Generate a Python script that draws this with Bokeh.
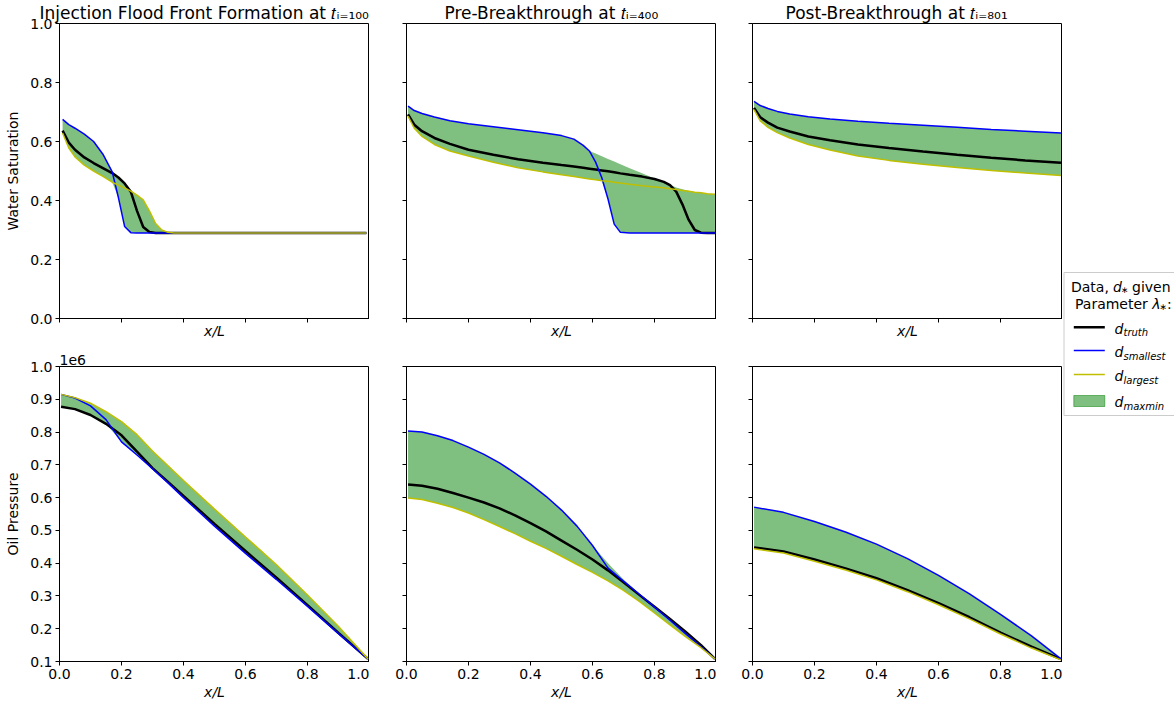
from bokeh.plotting import figure
from bokeh.models import Range1d, FixedTicker, PrintfTickFormatter
from bokeh.layouts import row, column
from bokeh.embed import file_html
from bokeh.resources import INLINE
from bokeh.core.properties import value

FONT = "DejaVu Sans"
BLUE = "#0000ff"
YELLOW = "#bfbf00"
GREEN = "#008000"

# ---------------- labels / ticks ----------------
titles = ["Injection Flood Front Formation at", "Pre-Breakthrough at", "Post-Breakthrough at"]
title_steps = ["\u2081\u2080\u2080", "\u2084\u2080\u2080", "\u2088\u2080\u2081"]   # 100, 400, 801 as subscripts
series_labels = ["truth", "smallest", "largest", "maxmin"]
x_ticks = [0.0, 0.2, 0.4, 0.6, 0.8, 1.0]
sw_ticks = [0.0, 0.2, 0.4, 0.6, 0.8, 1.0]
p_ticks = [0.1, 0.2, 0.3, 0.4, 0.5, 0.6, 0.7, 0.8, 0.9, 1.0]

# ---------------- water saturation, t=100 ----------------
sw100_x = [0.01, 0.03, 0.05, 0.08, 0.11, 0.14, 0.17, 0.19, 0.21, 0.23, 0.25, 0.27,
           0.29, 0.31, 0.33, 0.35, 0.37, 0.40, 0.5, 0.6, 0.7, 0.8, 0.9, 0.99]
sw100_truth = [0.637, 0.596, 0.572, 0.546, 0.527, 0.510, 0.493, 0.478, 0.458, 0.430, 0.365, 0.310,
               0.293, 0.290, 0.290, 0.290, 0.290, 0.290, 0.290, 0.290, 0.290, 0.290, 0.290, 0.290]
sw100_small = [0.675, 0.657, 0.645, 0.625, 0.600, 0.557, 0.497, 0.410, 0.312, 0.291, 0.290, 0.290,
               0.290, 0.290, 0.290, 0.290, 0.290, 0.290, 0.290, 0.290, 0.290, 0.290, 0.290, 0.290]
sw100_large = [0.629, 0.578, 0.548, 0.520, 0.500, 0.482, 0.462, 0.452, 0.443, 0.432, 0.418, 0.402,
               0.365, 0.322, 0.300, 0.292, 0.290, 0.290, 0.290, 0.290, 0.290, 0.290, 0.290, 0.290]
sw100_upper = [0.675, 0.657, 0.645, 0.625, 0.600, 0.557, 0.500, 0.480, 0.460, 0.435, 0.418, 0.402,
               0.365, 0.322, 0.300, 0.292, 0.290, 0.290, 0.290, 0.290, 0.290, 0.290, 0.290, 0.290]
sw100_lower = [0.629, 0.578, 0.548, 0.520, 0.500, 0.482, 0.462, 0.410, 0.312, 0.291, 0.290, 0.290,
               0.290, 0.290, 0.290, 0.290, 0.290, 0.290, 0.290, 0.290, 0.290, 0.290, 0.290, 0.290]

# ---------------- water saturation, t=400 ----------------
sw400_x = [0.005, 0.025, 0.05, 0.09, 0.14, 0.2, 0.28, 0.36, 0.44, 0.5, 0.54, 0.57, 0.59, 0.61, 0.63,
           0.65, 0.67, 0.69, 0.72, 0.76, 0.80, 0.83, 0.85, 0.87, 0.89, 0.91, 0.93, 0.95, 0.97, 0.995]
sw400_truth = [0.692, 0.657, 0.635, 0.612, 0.592, 0.572, 0.555, 0.540, 0.528, 0.520, 0.515, 0.511,
               0.508, 0.505, 0.502, 0.499, 0.496, 0.492, 0.487, 0.481, 0.473, 0.463, 0.452, 0.430,
               0.387, 0.335, 0.300, 0.291, 0.290, 0.290]
sw400_small = [0.720, 0.705, 0.695, 0.683, 0.670, 0.660, 0.650, 0.640, 0.630, 0.620, 0.608, 0.587,
               0.568, 0.530, 0.477, 0.405, 0.320, 0.292, 0.290, 0.290, 0.290, 0.290, 0.290, 0.290,
               0.290, 0.290, 0.290, 0.290, 0.290, 0.290]
sw400_large = [0.686, 0.645, 0.617, 0.590, 0.568, 0.551, 0.530, 0.511, 0.497, 0.487, 0.481, 0.476,
               0.473, 0.470, 0.467, 0.465, 0.462, 0.459, 0.455, 0.450, 0.446, 0.443, 0.440, 0.437,
               0.434, 0.431, 0.428, 0.426, 0.423, 0.421]
sw400_upper = [0.720, 0.705, 0.695, 0.683, 0.670, 0.660, 0.650, 0.640, 0.630, 0.620, 0.608, 0.587,
               0.568, 0.559, 0.550, 0.541, 0.532, 0.523, 0.509, 0.492, 0.475, 0.463, 0.453, 0.444,
               0.438, 0.433, 0.428, 0.426, 0.423, 0.421]
sw400_lower = [0.686, 0.645, 0.617, 0.590, 0.568, 0.551, 0.530, 0.511, 0.497, 0.487, 0.481, 0.476,
               0.473, 0.470, 0.467, 0.405, 0.320, 0.292, 0.290, 0.290, 0.290, 0.290, 0.290, 0.290,
               0.290, 0.290, 0.290, 0.290, 0.290, 0.290]

# ---------------- water saturation, t=801 ----------------
sw801_x = [0.005, 0.025, 0.05, 0.08, 0.12, 0.18, 0.25, 0.34, 0.44, 0.55, 0.66, 0.77, 0.88, 0.995]
sw801_truth = [0.714, 0.682, 0.664, 0.647, 0.634, 0.617, 0.604, 0.590, 0.578, 0.566, 0.555, 0.545, 0.536, 0.528]
sw801_small = [0.736, 0.722, 0.712, 0.702, 0.693, 0.684, 0.676, 0.669, 0.662, 0.655, 0.648, 0.641, 0.635, 0.629]
sw801_large = [0.708, 0.670, 0.648, 0.630, 0.612, 0.590, 0.571, 0.551, 0.536, 0.523, 0.512, 0.502, 0.493, 0.485]
sw801_upper = sw801_small
sw801_lower = sw801_large

# ---------------- oil pressure (x 1e6), t=100 ----------------
po100_x = [0.005, 0.05, 0.1, 0.15, 0.2, 0.25, 0.3, 0.35, 0.4, 0.5, 0.6, 0.7, 0.8, 0.9, 0.995]
po100_truth = [0.877, 0.870, 0.852, 0.825, 0.790, 0.740, 0.690, 0.648, 0.605, 0.520, 0.437, 0.356, 0.272, 0.187, 0.108]
po100_small = [0.915, 0.904, 0.880, 0.838, 0.770, 0.730, 0.688, 0.645, 0.600, 0.513, 0.430, 0.350, 0.268, 0.185, 0.108]
po100_large = [0.915, 0.905, 0.888, 0.862, 0.832, 0.792, 0.742, 0.697, 0.652, 0.565, 0.480, 0.395, 0.303, 0.207, 0.108]
po100_upper = po100_large
po100_lower = [0.877, 0.870, 0.852, 0.825, 0.770, 0.730, 0.688, 0.645, 0.600, 0.513, 0.430, 0.350, 0.268, 0.185, 0.108]

# ---------------- oil pressure (x 1e6), t=400 ----------------
po400_x = [0.005, 0.05, 0.1, 0.15, 0.2, 0.25, 0.3, 0.35, 0.4, 0.45, 0.5, 0.55, 0.6, 0.65, 0.7,
           0.75, 0.8, 0.85, 0.9, 0.95, 0.995]
po400_truth = [0.640, 0.636, 0.627, 0.614, 0.600, 0.585, 0.567, 0.546, 0.522, 0.497, 0.469, 0.441,
               0.411, 0.378, 0.342, 0.304, 0.267, 0.230, 0.191, 0.150, 0.108]
po400_small = [0.803, 0.800, 0.789, 0.774, 0.754, 0.732, 0.706, 0.675, 0.641, 0.604, 0.562, 0.513,
               0.454, 0.385, 0.345, 0.306, 0.266, 0.226, 0.185, 0.145, 0.108]
po400_large = [0.599, 0.594, 0.583, 0.570, 0.553, 0.533, 0.512, 0.490, 0.467, 0.445, 0.421, 0.396,
               0.372, 0.346, 0.317, 0.284, 0.248, 0.212, 0.176, 0.142, 0.108]
po400_upper = [0.803, 0.800, 0.789, 0.774, 0.754, 0.732, 0.706, 0.675, 0.641, 0.604, 0.562, 0.513,
               0.454, 0.400, 0.350, 0.308, 0.268, 0.232, 0.192, 0.151, 0.108]
po400_lower = po400_large

# ---------------- oil pressure (x 1e6), t=801 ----------------
po801_x = [0.005, 0.1, 0.2, 0.3, 0.4, 0.5, 0.6, 0.7, 0.8, 0.9, 0.995]
po801_truth = [0.448, 0.436, 0.411, 0.384, 0.354, 0.318, 0.278, 0.235, 0.188, 0.145, 0.107]
po801_small = [0.571, 0.555, 0.527, 0.495, 0.458, 0.414, 0.363, 0.306, 0.244, 0.178, 0.108]
po801_large = [0.444, 0.431, 0.406, 0.379, 0.349, 0.313, 0.273, 0.230, 0.184, 0.141, 0.105]
po801_upper = po801_small
po801_lower = po801_large

PANELS = [
    [(sw100_x, sw100_truth, sw100_small, sw100_large, sw100_upper, sw100_lower),
     (sw400_x, sw400_truth, sw400_small, sw400_large, sw400_upper, sw400_lower),
     (sw801_x, sw801_truth, sw801_small, sw801_large, sw801_upper, sw801_lower)],
    [(po100_x, po100_truth, po100_small, po100_large, po100_upper, po100_lower),
     (po400_x, po400_truth, po400_small, po400_large, po400_upper, po400_lower),
     (po801_x, po801_truth, po801_small, po801_large, po801_upper, po801_lower)],
]

FIG_W = [369, 347, 346]
BORDER_L = [59, 37, 36]
TITLE_OFF = [-20, 38, 33]     # title start relative to the frame's left edge, px
BL = 0.3                      # baseline correction for text glyphs, in em


def hide_labels(ax):
    ax.major_label_text_color = None
    ax.major_label_text_alpha = 0
    ax.major_label_text_font_size = "0px"
    ax.major_label_standoff = 0


def make_panel(r, c):
    xs, truth, small, large, upper, lower = PANELS[r][c]
    top = (r == 0)
    p = figure(width=FIG_W[c], height=344 if top else 360,
               x_range=Range1d(0, 1),
               y_range=Range1d(0, 1) if top else Range1d(0.1, 1.0),
               min_border=0,
               min_border_left=BORDER_L[c], min_border_right=0,
               min_border_top=22, min_border_bottom=26 if top else 43,
               output_backend="svg", toolbar_location=None)
    p.varea(x=xs, y1=lower, y2=upper, fill_color=GREEN, fill_alpha=0.5)
    p.line(xs, truth, line_color="black", line_width=2.5)
    p.line(xs, small, line_color=BLUE, line_width=1.5)
    p.line(xs, large, line_color=YELLOW, line_width=1.5)

    p.xgrid.visible = False
    p.ygrid.visible = False
    p.outline_line_color = "black"
    p.outline_line_alpha = 1
    p.outline_line_width = 1
    p.background_fill_color = "white"
    p.border_fill_color = "white"

    for ax in (p.xaxis[0], p.yaxis[0]):
        ax.axis_line_color = "black"
        ax.major_tick_line_color = "black"
        ax.major_tick_out = 4
        ax.major_tick_in = 0
        ax.minor_tick_line_color = None
        ax.major_label_text_font = FONT
        ax.major_label_text_font_size = "14px"
        ax.major_label_text_color = "black"
        ax.axis_label_text_font = FONT
        ax.axis_label_text_font_size = "14px"
        ax.axis_label_text_font_style = "normal"
        ax.axis_label_text_color = "black"
        ax.major_label_standoff = 3
        ax.formatter = PrintfTickFormatter(format="%.1f")

    xa = p.xaxis[0]
    xa.ticker = FixedTicker(ticks=x_ticks)
    xa.axis_label = "x/L"
    xa.axis_label_text_font_style = "italic"
    xa.axis_label_standoff = 2
    if top:
        hide_labels(xa)
        xa.axis_label_standoff = 0

    ya = p.yaxis[0]
    ya.ticker = FixedTicker(ticks=sw_ticks if top else p_ticks)
    if c == 0:
        ya.axis_label = "Water Saturation" if top else "Oil Pressure"
        ya.axis_label_standoff = 6
    else:
        hide_labels(ya)

    p.title.text_font = FONT
    p.title.text_font_style = "normal"
    p.title.text_color = "black"
    p.title.align = "left"
    if top:
        p.title.text = titles[c] + " \U0001D461\u1D62\u208C" + title_steps[c]
        p.title.text_font_size = "17px"
        p.title.standoff = 1
        p.title.offset = TITLE_OFF[c]
    elif c == 0:
        p.title.text = "1e6"
        p.title.text_font_size = "14px"
        p.title.standoff = 4
        p.title.offset = 0
    return p


txt = dict(text_font=value(FONT), text_baseline="alphabetic", text_color="black")

rows = [row(*[make_panel(r, c) for c in range(3)]) for r in range(2)]

# ---------------- legend (separate canvas at the right) ----------------
lg = figure(width=112, height=704, x_range=Range1d(0, 112), y_range=Range1d(704, 0),
            min_border=0, x_axis_location=None, y_axis_location=None, title=None,
            output_backend="svg", toolbar_location=None)
lg.xgrid.visible = False
lg.ygrid.visible = False
lg.outline_line_color = None
lg.background_fill_color = "white"
lg.border_fill_color = "white"

lg.quad(left=[1.5], right=[140], top=[272], bottom=[415], fill_color="white",
        fill_alpha=0.8, line_color="#cccccc", line_width=1)

# legend title
b1 = 290.7 - BL * 14
b2 = 307.5 - BL * 14
lg.text(x=[8.5, 69.5, 12.5, 104.5], y=[b1, b1, b2, b2],
        text=["Data,", "given", "Parameter", ":"], text_align="left", text_font_size="14px", **txt)
lg.text(x=[50.5, 89.8], y=[b1, b2], text=["d", "λ"], text_align="left",
        text_font_size="14px", text_font_style="italic", **txt)
lg.text(x=[58.5, 97.0], y=[b1 + 3, b2 + 3], text=["∗", "∗"], text_align="left",
        text_font_size="9px", **txt)

# legend handles
entry_y = [326.7, 350.0, 374.0, 400.5]
lg.line([11.3, 42.3], [entry_y[0], entry_y[0]], line_color="black", line_width=2.5)
lg.line([11.3, 42.3], [entry_y[1], entry_y[1]], line_color=BLUE, line_width=1.5)
lg.line([11.3, 42.3], [entry_y[2], entry_y[2]], line_color=YELLOW, line_width=1.5)
lg.quad(left=[11.3], right=[42.3], top=[395], bottom=[406], fill_color=GREEN, fill_alpha=0.5,
        line_color=GREEN, line_alpha=0.5, line_width=1)

lg.text(x=[52.0] * 4, y=[yy + 5.5 - BL * 14 for yy in entry_y], text=["d"] * 4, text_align="left",
        text_font_size="14px", text_font_style="italic", **txt)
lg.text(x=[61.0] * 4, y=[yy + 8.5 - BL * 10 for yy in entry_y], text=series_labels,
        text_align="left", text_font_size="10px", text_font_style="italic", **txt)

layout = row(column(*rows), lg)

open("out.html", "w").write(file_html(layout, INLINE))
